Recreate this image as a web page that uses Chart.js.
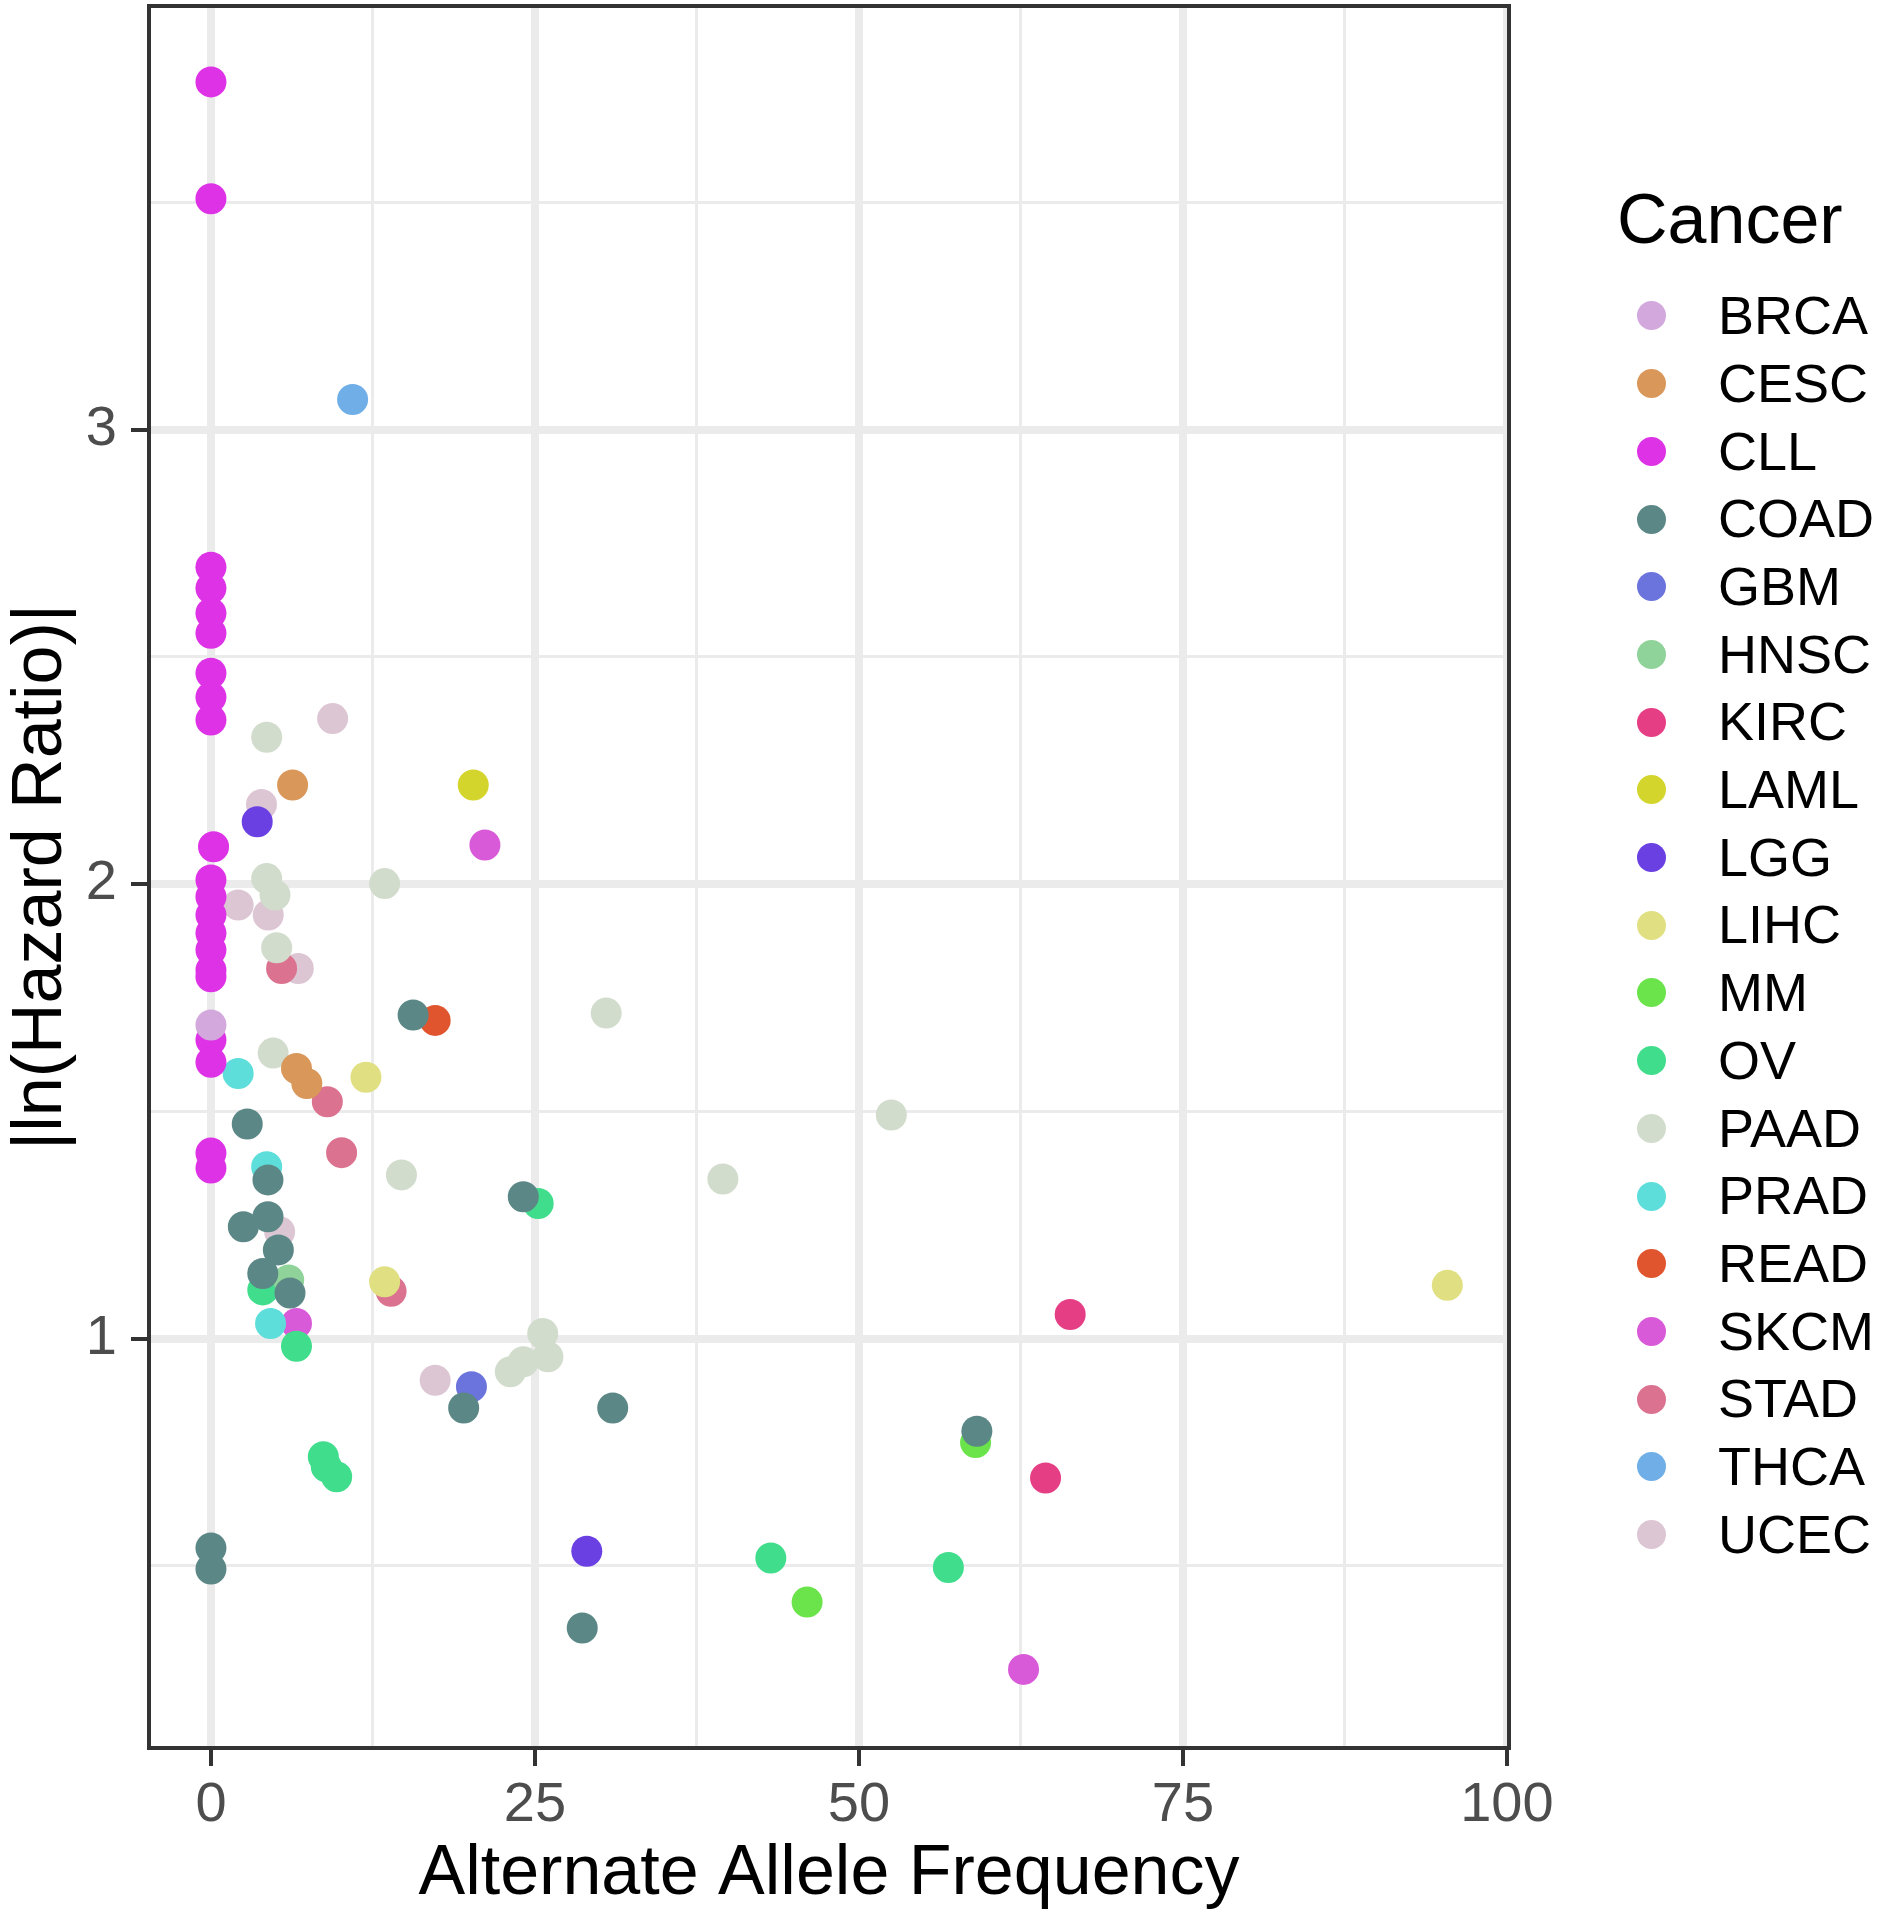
<!DOCTYPE html>
<html>
<head>
<meta charset="utf-8">
<title>|ln(Hazard Ratio)| vs Alternate Allele Frequency</title>
<script src="https://cdn.jsdelivr.net/npm/chart.js@4.4.1/dist/chart.umd.min.js"></script>
<style>
  body { margin: 0; background: #fff; font-family: 'Liberation Sans', Arial, sans-serif; }
  #wrap { position: relative; width: 1880px; height: 1920px; }
  #legend { position: absolute; left: 1617px; top: 0; width: 263px; height: 1920px; color: #000; }
  #legend .title { position: absolute; left: 0; top: 177px; font-size: 70px; line-height: 84px; white-space: nowrap; }
  #legend .row { position: absolute; left: 0; height: 67.7px; line-height: 67.7px; font-size: 54px; white-space: nowrap; }
  #legend .dot { position: absolute; left: 19.5px; top: 19.35px; width: 29px; height: 29px; border-radius: 50%; }
  #legend .lbl { position: absolute; left: 101px; top: 0; }
</style>
</head>
<body>
<div id="wrap">
  <canvas id="chart" width="1880" height="1920"></canvas>
  <div id="legend"></div>
</div>
<script>
// categorias (orden de la leyenda)
const cancers = ['BRCA', 'CESC', 'CLL', 'COAD', 'GBM', 'HNSC', 'KIRC', 'LAML', 'LGG', 'LIHC',
                 'MM', 'OV', 'PAAD', 'PRAD', 'READ', 'SKCM', 'STAD', 'THCA', 'UCEC'];

// Alternate Allele Frequency (x) y |ln(HR)| (y) por tipo de cancer
const brcaAF = [0];
const brcaHR = [1.69];
const cescAF = [6.3, 6.6, 7.4];
const cescHR = [2.218, 1.594, 1.561];
const cllAF = [0, 0, 0, 0, 0, 0, 0, 0, 0, 0.2, 0, 0, 0, 0, 0, 0, 0, 0, 0, 0, 0];
const cllHR = [3.765, 3.508, 2.697, 2.651, 2.596, 2.552, 2.464, 2.411, 2.361, 2.082, 2.009,
               1.972, 1.932, 1.892, 1.855, 1.811, 1.796, 1.657, 1.608, 1.408, 1.375];
const coadAF = [15.6, 2.8, 4.4, 24.1, 2.5, 4.4, 5.2, 4.0, 6.1, 19.5, 31.0, 59.1, 28.65, 0, 0];
const coadHR = [1.712, 1.472, 1.349, 1.312, 1.246, 1.268, 1.195, 1.143, 1.10, 0.847, 0.847, 0.796, 0.363, 0.539, 0.493];
const gbmAF = [20.1];
const gbmHR = [0.894];
const hnscAF = [6.0];
const hnscHR = [1.129];
const kircAF = [66.3, 64.4];
const kircHR = [1.053, 0.693];
const lamlAF = [20.24];
const lamlHR = [2.218];
const lggAF = [3.57, 29.0];
const lggHR = [2.137, 0.532];
const lihcAF = [11.96, 13.4, 95.4];
const lihcHR = [1.575, 1.125, 1.117];
const mmAF = [59.0, 46.0];
const mmHR = [0.771, 0.42];
const ovAF = [25.25, 4.0, 6.6, 8.67, 8.9, 9.7, 43.2, 56.9];
const ovHR = [1.297, 1.107, 0.983, 0.74, 0.718, 0.696, 0.517, 0.496];
const paadAF = [4.3, 4.3, 4.94, 13.4, 5.07, 30.5, 4.8, 14.7, 25.6, 26.0, 24.1, 23.1, 52.5, 39.5];
const paadHR = [2.323, 2.012, 1.976, 2.001, 1.86, 1.716, 1.628, 1.36, 1.011, 0.96, 0.949, 0.927, 1.492, 1.351];
const pradAF = [2.1, 4.3, 4.6];
const pradHR = [1.583, 1.378, 1.033];
const readAF = [17.3];
const readHR = [1.70];
const skcmAF = [21.14, 6.6, 62.7];
const skcmHR = [2.086, 1.033, 0.272];
const stadAF = [5.45, 8.98, 10.08, 13.9];
const stadHR = [1.814, 1.521, 1.409, 1.104];
const thcaAF = [10.93];
const thcaHR = [3.066];
const ucecAF = [9.39, 3.9, 2.1, 4.42, 6.74, 5.3, 17.3];
const ucecHR = [2.364, 2.175, 1.954, 1.932, 1.814, 1.235, 0.908];

// ticks
const xTicks = [0, 25, 50, 75, 100];
const xMinorTicks = [12.5, 37.5, 62.5, 87.5];
const yTicks = [1, 2, 3];
const yMinorTicks = [0.5, 1.5, 2.5, 3.5];

const afValues = [brcaAF, cescAF, cllAF, coadAF, gbmAF, hnscAF, kircAF, lamlAF, lggAF, lihcAF,
                  mmAF, ovAF, paadAF, pradAF, readAF, skcmAF, stadAF, thcaAF, ucecAF];
const hrValues = [brcaHR, cescHR, cllHR, coadHR, gbmHR, hnscHR, kircHR, lamlHR, lggHR, lihcHR,
                  mmHR, ovHR, paadHR, pradHR, readHR, skcmHR, stadHR, thcaHR, ucecHR];

// colores de cada cancer
const colores = ['#D3A8DD', '#D9975A', '#DE32E6', '#5B8886', '#6B74DC', '#90D39A', '#E63E85',
                 '#D4D52C', '#6A40E3', '#E0E083', '#6BE34A', '#40DD8C', '#D2DCCC', '#5DDEDA',
                 '#E0552E', '#D95AD8', '#DB7290', '#6FAEE6', '#DDC6D3'];

Chart.defaults.font.family = "'Liberation Sans', Arial, sans-serif";

const datasets = cancers.map((name, i) => ({
    label: name,
    data: afValues[i].map((x, j) => ({ x: x, y: hrValues[i][j] })),
    backgroundColor: colores[i],
    borderWidth: 0,
    pointRadius: 15.5,
    pointHoverRadius: 15.5
}));

const GRID = '#EBEBEB';
const INK = '#333333';

function isMajor(list, v) {
    return list.some(t => Math.abs(t - v) < 1e-6);
}

// borde del panel
const panelBorder = {
    id: 'panelBorder',
    afterDatasetsDraw(chart) {
        const a = chart.chartArea;
        const ctx = chart.ctx;
        ctx.save();
        ctx.strokeStyle = INK;
        ctx.lineWidth = 4;
        ctx.strokeRect(a.left, a.top, a.right - a.left, a.bottom - a.top);
        ctx.restore();
    }
};

new Chart(document.getElementById('chart'), {
    type: 'scatter',
    data: { datasets: datasets },
    plugins: [panelBorder],
    options: {
        responsive: false,
        animation: false,
        events: [],
        layout: { autoPadding: false, padding: { top: 6, right: 371, left: 0, bottom: 0 } },
        plugins: { legend: { display: false }, tooltip: { enabled: false } },
        scales: {
            x: {
                type: 'linear',
                min: -4.78,
                max: 100.16,
                afterBuildTicks: s => { s.ticks = xTicks.concat(xMinorTicks).sort((a, b) => a - b).map(v => ({ value: v })); },
                afterFit: s => { s.height = 172; s.paddingLeft = 0; s.paddingRight = 0; },
                border: { display: false },
                grid: {
                    color: GRID,
                    lineWidth: c => isMajor(xTicks, c.tick.value) ? 8 : 3,
                    tickColor: c => isMajor(xTicks, c.tick.value) ? INK : 'rgba(0,0,0,0)',
                    tickWidth: 4,
                    tickLength: 18
                },
                ticks: {
                    color: '#4D4D4D',
                    font: { size: 56 },
                    padding: 6,
                    maxRotation: 0,
                    autoSkip: false,
                    callback: v => isMajor(xTicks, v) ? String(v) : ''
                },
                title: {
                    display: true,
                    text: 'Alternate Allele Frequency',
                    color: '#000',
                    font: { size: 70 },
                    padding: { top: 0, bottom: 3 }
                }
            },
            y: {
                type: 'linear',
                min: 0.099,
                max: 3.932,
                afterBuildTicks: s => { s.ticks = yTicks.concat(yMinorTicks).sort((a, b) => a - b).map(v => ({ value: v })); },
                afterFit: s => { s.width = 149; s.paddingTop = 0; s.paddingBottom = 0; },
                border: { display: false },
                grid: {
                    color: GRID,
                    lineWidth: c => isMajor(yTicks, c.tick.value) ? 8 : 3,
                    tickColor: c => isMajor(yTicks, c.tick.value) ? INK : 'rgba(0,0,0,0)',
                    tickWidth: 4,
                    tickLength: 18
                },
                ticks: {
                    color: '#4D4D4D',
                    font: { size: 56 },
                    padding: 14,
                    autoSkip: false,
                    callback: v => isMajor(yTicks, v) ? String(v) : ''
                },
                title: {
                    display: true,
                    text: '|ln(Hazard Ratio)|',
                    color: '#000',
                    font: { size: 70 },
                    padding: { top: 0, bottom: 0 }
                }
            }
        }
    }
});

// leyenda en HTML
const legend = document.getElementById('legend');
const titulo = document.createElement('div');
titulo.className = 'title';
titulo.textContent = 'Cancer';
legend.appendChild(titulo);
cancers.forEach((name, i) => {
    const row = document.createElement('div');
    row.className = 'row';
    row.style.top = (316 + i * 67.7 - 33.85) + 'px';
    row.innerHTML = '<span class="dot" style="background:' + colores[i] + '"></span><span class="lbl">' + name + '</span>';
    legend.appendChild(row);
});
</script>
</body>
</html>
